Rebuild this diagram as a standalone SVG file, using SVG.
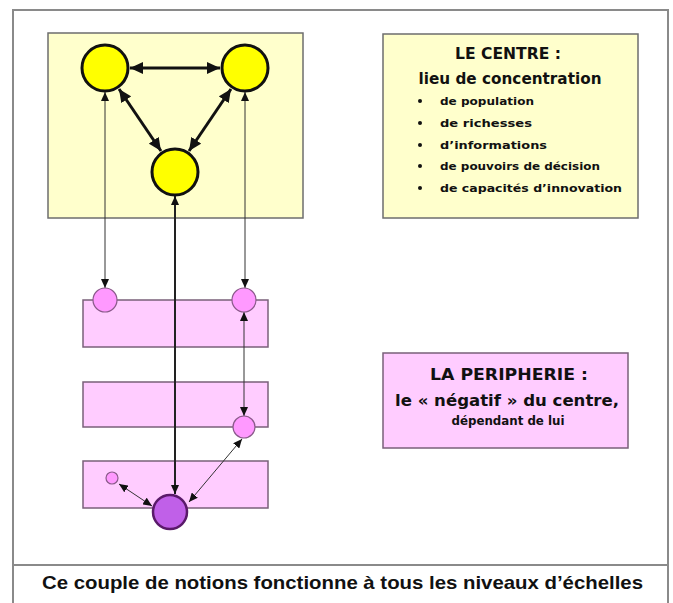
<svg xmlns="http://www.w3.org/2000/svg" width="673" height="603" viewBox="0 0 673 603">
<style>
.frame{fill:none;stroke:#8a8a8a;stroke-width:2}
.ybox{fill:#ffffcc;stroke:#6e6e6e;stroke-width:1.5}
.pbox{fill:#ffccff;stroke:#7a607a;stroke-width:1.5}
.ycirc{fill:#ffff00;stroke:#111;stroke-width:3}
.pcirc{fill:#ff99ff;stroke:#8a5a8a;stroke-width:1.2}
.vcirc{fill:#c060e8;stroke:#5a1a6a;stroke-width:2.5}
.thick{stroke:#111;stroke-width:3;fill:none;marker-start:url(#ah);marker-end:url(#ah)}
.mid{stroke:#222;stroke-width:2;fill:none;marker-start:url(#at);marker-end:url(#at)}
.thin{stroke:#333;stroke-width:1;fill:none;marker-start:url(#at);marker-end:url(#at)}
text{font-family:"DejaVu Sans","Liberation Sans",sans-serif;fill:#111}
.h{font-size:15px;font-weight:bold;text-anchor:middle}
.b{font-size:11px;font-weight:bold}
.c{font-size:12px;font-weight:bold;text-anchor:middle}
.foot{font-family:"Liberation Sans",Arial,sans-serif;font-size:19px;font-weight:bold}
</style>
<defs>
<marker id="ah" markerUnits="userSpaceOnUse" markerWidth="14" markerHeight="12" refX="13" refY="6" orient="auto-start-reverse">
<path d="M0,0 L13,6 L0,12 z" fill="#111"/>
</marker>
<marker id="at" markerUnits="userSpaceOnUse" markerWidth="9" markerHeight="8" refX="9" refY="4" orient="auto-start-reverse">
<path d="M0,0 L9,4 L0,8 z" fill="#111"/>
</marker>
</defs>
<rect width="673" height="603" fill="#ffffff"/>
<path class="frame" d="M13,603 V10 H668 V603 M13,565 H668"/>

<g id="centre-zone"><rect class="ybox" x="48" y="33" width="255" height="185"/></g>
<g id="peri-1"><rect class="pbox" x="83" y="300" width="185" height="47"/></g>
<g id="peri-2"><rect class="pbox" x="83" y="382" width="185" height="45"/></g>
<g id="peri-3"><rect class="pbox" x="83" y="461" width="185" height="47"/></g>

<g id="connectors">
<line class="thick" x1="130" y1="68" x2="220" y2="68"/>
<line class="thick" x1="119" y1="89" x2="161" y2="151"/>
<line class="thick" x1="231" y1="89" x2="189" y2="151"/>
<line class="thin" x1="105" y1="92" x2="105" y2="288"/>
<line class="thin" x1="245" y1="92" x2="245" y2="288"/>
<line class="mid" x1="175" y1="196" x2="175" y2="494"/>
<line class="thin" x1="244" y1="312" x2="244" y2="416"/>
<line class="thin" x1="242" y1="439" x2="189" y2="502"/>
<line class="thin" x1="119" y1="484" x2="152" y2="506"/>
</g>

<g id="centre-a"><circle class="ycirc" cx="105" cy="68" r="23"/></g>
<g id="centre-b"><circle class="ycirc" cx="245" cy="68" r="23"/></g>
<g id="centre-c"><circle class="ycirc" cx="175" cy="172" r="23"/></g>
<g id="p1"><circle class="pcirc" cx="105" cy="300" r="12"/></g>
<g id="p2"><circle class="pcirc" cx="244" cy="300" r="12"/></g>
<g id="p3"><circle class="pcirc" cx="244" cy="427" r="11"/></g>
<g id="p4"><circle class="pcirc" cx="112" cy="478" r="6"/></g>
<g id="pv"><circle class="vcirc" cx="170" cy="512" r="17"/></g>

<g id="legend-centre">
<rect class="ybox" x="383" y="34" width="255" height="184"/>
<text class="h" x="508" y="59" textLength="106" lengthAdjust="spacingAndGlyphs">LE CENTRE :</text>
<text class="h" x="510" y="84" textLength="183" lengthAdjust="spacingAndGlyphs">lieu de concentration</text>
<g fill="#111">
<circle cx="420" cy="101" r="2"/>
<circle cx="420" cy="123" r="2"/>
<circle cx="420" cy="145" r="2"/>
<circle cx="420" cy="166" r="2"/>
<circle cx="420" cy="188" r="2"/>
</g>
<text class="b" x="440" y="105" textLength="94" lengthAdjust="spacingAndGlyphs">de population</text>
<text class="b" x="440" y="127" textLength="92" lengthAdjust="spacingAndGlyphs">de richesses</text>
<text class="b" x="440" y="149" textLength="107" lengthAdjust="spacingAndGlyphs">d’informations</text>
<text class="b" x="440" y="170" textLength="160" lengthAdjust="spacingAndGlyphs">de pouvoirs de décision</text>
<text class="b" x="440" y="192" textLength="182" lengthAdjust="spacingAndGlyphs">de capacités d’innovation</text>
</g>

<g id="legend-peripherie">
<rect class="pbox" x="383" y="353" width="245" height="95"/>
<text class="h" x="509" y="380" textLength="158" lengthAdjust="spacingAndGlyphs">LA PERIPHERIE :</text>
<text class="h" x="507" y="406" textLength="224" lengthAdjust="spacingAndGlyphs">le « négatif » du centre,</text>
<text class="c" x="508" y="425" textLength="113" lengthAdjust="spacingAndGlyphs">dépendant de lui</text>
</g>

<text class="foot" x="42" y="589" textLength="601" lengthAdjust="spacingAndGlyphs">Ce couple de notions fonctionne à tous les niveaux d’échelles</text>
</svg>
